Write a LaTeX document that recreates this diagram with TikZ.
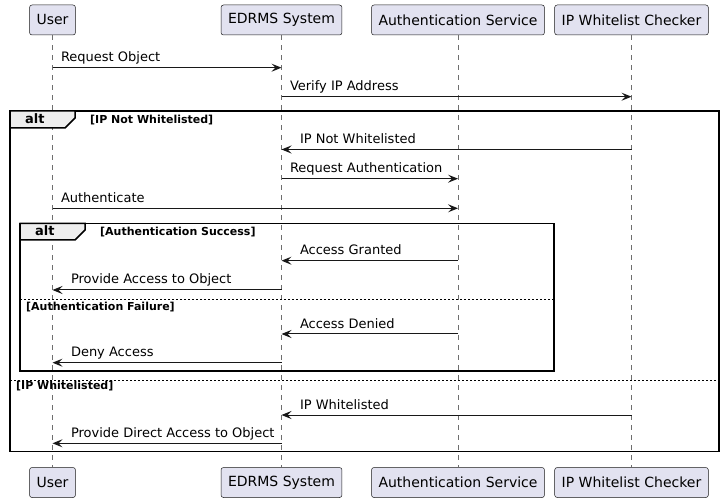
\documentclass[tikz,border=0pt]{standalone}
\usepackage{fontspec}
\setmainfont{DejaVu Sans}
\usetikzlibrary{positioning, arrows.meta, calc}

\definecolor{actorfill}{HTML}{E2E2F0}
\definecolor{linegray}{HTML}{181818}
\definecolor{lifegray}{HTML}{6E6E6E}
\definecolor{tabfill}{HTML}{EEEEEE}

\begin{document}
\begin{tikzpicture}[
    x=1pt, y=-1pt,
    >={Stealth[length=10pt, width=8pt, inset=4pt]},
    node distance=432pt,
    actor/.style={
        rectangle,
        fill=actorfill,
        draw=linegray,
        line width=0.5pt,
        rounded corners=2.5pt,
        minimum height=30pt,
        inner xsep=7pt,
        font=\fontsize{14}{16}\selectfont
    },
    lifeline/.style={
        draw=lifegray,
        line width=0.5pt,
        dash pattern=on 5pt off 5pt
    },
    msg/.style={
        ->,
        draw=linegray,
        line width=1pt
    },
    msgtxt/.style={
        anchor=base west,
        inner sep=0pt,
        yshift=6pt,
        font=\fontsize{13}{15}\selectfont
    },
    fwd/.style={msgtxt, pos=0, xshift=8pt},
    bwd/.style={msgtxt, pos=1, xshift=18pt},
    frame/.style={
        draw=black,
        line width=1.5pt
    },
    tab/.style={
        frame,
        fill=tabfill
    },
    sep/.style={
        draw=black,
        line width=1pt,
        dash pattern=on 2pt off 2pt
    },
    keyword/.style={
        anchor=base west,
        inner sep=0pt,
        font=\fontsize{13}{15}\selectfont\bfseries
    },
    guard/.style={
        anchor=base west,
        inner sep=0pt,
        font=\fontsize{11}{13}\selectfont\bfseries
    }
]

    \useasboundingbox (0,0) rectangle (725,502);

    % Participants (top)
    \node[actor] (user_top) at (52.5,20) {User};
    \node[actor] (edrms_top) at (281.5,20) {EDRMS System};
    \node[actor] (auth_top) at (458,20) {Authentication Service};
    \node[actor] (ip_top) at (631.5,20) {IP Whitelist Checker};

    % Participants (bottom)
    \node[actor, below=of user_top] (user_bot) {User};
    \node[actor, below=of edrms_top] (edrms_bot) {EDRMS System};
    \node[actor, below=of auth_top] (auth_bot) {Authentication Service};
    \node[actor, below=of ip_top] (ip_bot) {IP Whitelist Checker};

    % Lifelines
    \draw[lifeline] (user_top) -- (user_bot);
    \draw[lifeline] (edrms_top) -- (edrms_bot);
    \draw[lifeline] (auth_top) -- (auth_bot);
    \draw[lifeline] (ip_top) -- (ip_bot);

    % Outer alt frame
    \draw[frame] (10,111) rectangle (719,451.7);
    \draw[tab] (10,111) -- (75,111) -- (75,118) -- (65,128) -- (10,128) -- cycle;
    \node[keyword] (alt_ip) at (25,124) {alt};
    \node[guard] (g_notwl) at (90,124) {[IP Not Whitelisted]};
    \draw[sep] (10,380) -- (719,380);
    \node[guard] (g_wl) at (16,389.5) {[IP Whitelisted]};

    % Inner alt frame
    \draw[frame] (20,223.3) rectangle (554,371);
    \draw[tab] (20,223.3) -- (85,223.3) -- (85,230) -- (75,240) -- (20,240) -- cycle;
    \node[keyword] (alt_auth) at (35,235.5) {alt};
    \node[guard] (g_ok) at (100,235.5) {[Authentication Success]};
    \draw[sep] (20,299.3) -- (554,299.3);
    \node[guard] (g_fail) at (26,310.5) {[Authentication Failure]};

    % Message rows
    \coordinate (m1) at (0,67.7);
    \coordinate (m2) at (0,96.7);
    \coordinate (m3) at (0,149.5);
    \coordinate (m4) at (0,178.7);
    \coordinate (m5) at (0,208.3);
    \coordinate (m6) at (0,260.7);
    \coordinate (m7) at (0,290);
    \coordinate (m8) at (0,334);
    \coordinate (m9) at (0,362.7);
    \coordinate (m10) at (0,415);
    \coordinate (m11) at (0,443.3);

    % Messages
    \draw[msg] (user_top |- m1) -- (edrms_top |- m1) node[fwd] {Request Object};
    \draw[msg] (edrms_top |- m2) -- (ip_top |- m2) node[fwd] {Verify IP Address};
    \draw[msg] (ip_top |- m3) -- (edrms_top |- m3) node[bwd] {IP Not Whitelisted};
    \draw[msg] (edrms_top |- m4) -- (auth_top |- m4) node[fwd] {Request Authentication};
    \draw[msg] (user_top |- m5) -- (auth_top |- m5) node[fwd] {Authenticate};
    \draw[msg] (auth_top |- m6) -- (edrms_top |- m6) node[bwd] {Access Granted};
    \draw[msg] (edrms_top |- m7) -- (user_top |- m7) node[bwd] {Provide Access to Object};
    \draw[msg] (auth_top |- m8) -- (edrms_top |- m8) node[bwd] {Access Denied};
    \draw[msg] (edrms_top |- m9) -- (user_top |- m9) node[bwd] {Deny Access};
    \draw[msg] (ip_top |- m10) -- (edrms_top |- m10) node[bwd] {IP Whitelisted};
    \draw[msg] (edrms_top |- m11) -- (user_top |- m11) node[bwd] {Provide Direct Access to Object};

\end{tikzpicture}
\end{document}
